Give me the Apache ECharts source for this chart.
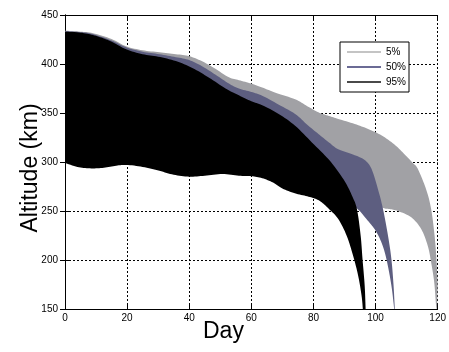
<!DOCTYPE html>
<html><head><meta charset="utf-8">
<script src="https://cdn.jsdelivr.net/npm/echarts@6/dist/echarts.min.js"></script>
<style>html,body{margin:0;padding:0;background:#fff}#c{width:449px;height:352px}</style>
</head><body><div id="c"></div>
<script>
// Series names (legend)
const seriesNames = ['5%', '50%', '95%'];
// Axis ticks
const xTicks = [0, 20, 40, 60, 80, 100, 120];
const yTicks = [150, 200, 250, 300, 350, 400, 450];
const xTitle = 'Day';
const yTitle = 'Altitude (km)';

// 95% band: [day, altitude km]
const p95Upper = [[0,433],[5,432],[9,429.5],[12.5,426],[15.5,422],[19.7,415],[25,410],[30,407.5],[35.7,403],[41,396],[46.4,386],[51.7,375],[56,368],[60,362],[63.5,358],[68.8,349],[74.1,337],[79.5,320],[84.8,303],[88,290],[90.5,278],[92.5,265],[94,252],[95.2,225],[95.8,201],[96.5,174],[96.8,150]];
const p95Lower = [[0,299],[4,295],[8,293.5],[12,294],[16,296],[19.7,297],[25,295],[30.4,291],[35,287],[40,285],[45,286],[50.7,287.8],[56,286],[60,285.5],[63.5,283.5],[67,279],[70,273],[74,268],[78,265],[81,262],[83,258],[85,252],[88,241.8],[90.7,224.8],[92.8,204],[94.4,184],[95.5,163.6],[95.9,150]];

// 50% band
const p50Upper = [[0,433.5],[5,432.5],[9,430.5],[15,424],[19.7,417],[25,412.5],[30.4,410],[35.7,407],[40,404],[44,398],[48.5,389],[52.8,380],[56,375],[60,371.5],[63.5,367.7],[68,360],[74.1,349],[78,338],[81.6,328.6],[85,320],[88,313],[93.3,307],[96.5,302],[98.7,293],[100.8,272],[102.4,252],[104,225],[105.1,201],[105.8,174],[106.2,150]];
const p50Lower = [[0,303],[20,300],[40,290],[60,290],[70,282],[80,275],[85,268],[90,260],[94.2,252],[97,242],[100,230],[102,217],[103.5,201],[105.1,174],[106,150]];

// 5% band
const p5Upper = [[0,434],[5,433],[9,431.5],[15,425.5],[19.7,418],[25,414],[30.4,412],[35.7,410],[40,408],[44,403],[48,396],[52.8,386.4],[56,383.5],[60,380],[63.5,376],[68,370.5],[74.1,364],[78,357],[81.6,350.7],[85,347],[88,344],[93.3,338.8],[97.6,333.7],[102,327],[106,318],[109,309],[112,299],[113.6,293],[116.3,272],[117.9,252],[119,225],[119.6,201],[120,175]];
const p5Lower = [[0,305],[20,303],[40,295],[60,293],[75,285],[85,278],[92,270],[97,264],[100,258],[102.5,253],[104.5,252],[107.2,250],[111.5,243.5],[114.7,231.6],[116.8,214.6],[117.9,197.6],[118.9,177],[119.5,153],[119.8,150]];

const fills = ['#a1a1a5', '#5d5e80', '#000000'];
const legendColors = ['#c4c4c4', '#6b6b95', '#4a4a4a'];
const bands = [[p5Upper, p5Lower], [p50Upper, p50Lower], [p95Upper, p95Lower]];

// Smooth a pixel polyline (Catmull-Rom rendered as sampled cubic Bezier)
function smoothPixels(P) {
  const out = [P[0]];
  const n = P.length;
  for (let i = 0; i < n - 1; i++) {
    const p0 = P[Math.max(0, i - 1)], p1 = P[i], p2 = P[i + 1], p3 = P[Math.min(n - 1, i + 2)];
    const c1 = [p1[0] + (p2[0] - p0[0]) / 6, p1[1] + (p2[1] - p0[1]) / 6];
    const c2 = [p2[0] - (p3[0] - p1[0]) / 6, p2[1] - (p3[1] - p1[1]) / 6];
    for (let s = 1; s <= 8; s++) {
      const t = s / 8, u = 1 - t;
      out.push([
        u*u*u*p1[0] + 3*u*u*t*c1[0] + 3*u*t*t*c2[0] + t*t*t*p2[0],
        u*u*u*p1[1] + 3*u*u*t*c1[1] + 3*u*t*t*c2[1] + t*t*t*p2[1]
      ]);
    }
  }
  return out;
}

function bandSeries(i) {
  const up = bands[i][0], lo = bands[i][1];
  return {
    type: 'custom', name: seriesNames[i], coordinateSystem: 'cartesian2d',
    xAxisIndex: 0, yAxisIndex: 0,
    itemStyle: { color: fills[i] },
    data: [[0, 300]],
    z: 2 + i,
    renderItem: function (params, api) {
      const cs = params.coordSys;
      const clampY = p => [p[0], Math.min(p[1], cs.y + cs.height)];
      const U = smoothPixels(up.map(p => api.coord(p))).map(clampY);
      const L = smoothPixels(lo.map(p => api.coord(p))).map(clampY);
      const pts = U.concat(L.reverse());
      return { type: 'polygon', shape: { points: pts }, style: { fill: fills[i], stroke: null } };
    }
  };
}

const font = 'Liberation Sans, Arial, Helvetica, sans-serif';
const chart = echarts.init(document.getElementById('c'), null, { renderer: 'canvas' });
chart.setOption({
  animation: false,
  backgroundColor: '#fff',
  grid: { left: 65, right: 9, top: 15, bottom: 43 },
  legend: {
    orient: 'vertical', left: 340, top: 42,
    backgroundColor: '#fff', borderColor: '#000', borderWidth: 1,
    padding: [4, 3, 4, 7], itemGap: 3,
    itemWidth: 34, itemHeight: 2, itemTextGap: 5,
    selectedMode: false,
    textStyle: { fontFamily: 'Liberation Sans Narrow, Liberation Sans, Arial, sans-serif', fontSize: 10, color: '#000', lineHeight: 12 },
    data: seriesNames.map((n, i) => ({ name: n, icon: 'rect', itemStyle: { color: legendColors[i] } }))
  },
  graphic: [
    { type: 'text', left: 203, top: 320, style: { text: xTitle, font: '23px ' + font, fill: '#000' } },
    { type: 'text', x: 31, y: 168, rotation: Math.PI / 2, style: { text: yTitle, font: '23px ' + font, fill: '#000', align: 'center', verticalAlign: 'middle' } }
  ],
  xAxis: [{
    type: 'value', min: xTicks[0], max: xTicks[xTicks.length - 1], interval: 20,
    axisLine: { lineStyle: { color: '#000', width: 1 } },
    axisTick: { inside: true, length: 5, lineStyle: { color: '#000' } },
    axisLabel: { fontFamily: font, fontSize: 10, color: '#000', margin: 4 },
    splitLine: { show: true, lineStyle: { color: '#000', type: [2, 2], width: 1 } }
  }, {
    type: 'value', position: 'top', min: 0, max: 120, interval: 20,
    axisLine: { show: true, lineStyle: { color: '#000', width: 1 } },
    axisTick: { inside: true, length: 5, lineStyle: { color: '#000' } },
    axisLabel: { show: false }, splitLine: { show: false }
  }],
  yAxis: [{
    type: 'value', min: yTicks[0], max: yTicks[yTicks.length - 1], interval: 50,
    axisLine: { show: true, lineStyle: { color: '#000', width: 1 } },
    axisTick: { show: true, inside: true, length: 5, lineStyle: { color: '#000' } },
    axisLabel: { fontFamily: font, fontSize: 10, color: '#000', margin: 7 },
    splitLine: { show: true, lineStyle: { color: '#000', type: [2, 2], width: 1 } }
  }, {
    type: 'value', position: 'right', min: 150, max: 450, interval: 50,
    axisLine: { show: true, lineStyle: { color: '#000', width: 1 } },
    axisTick: { show: true, inside: true, length: 5, lineStyle: { color: '#000' } },
    axisLabel: { show: false }, splitLine: { show: false }
  }],
  series: [bandSeries(0), bandSeries(1), bandSeries(2)]
});
</script></body></html>
